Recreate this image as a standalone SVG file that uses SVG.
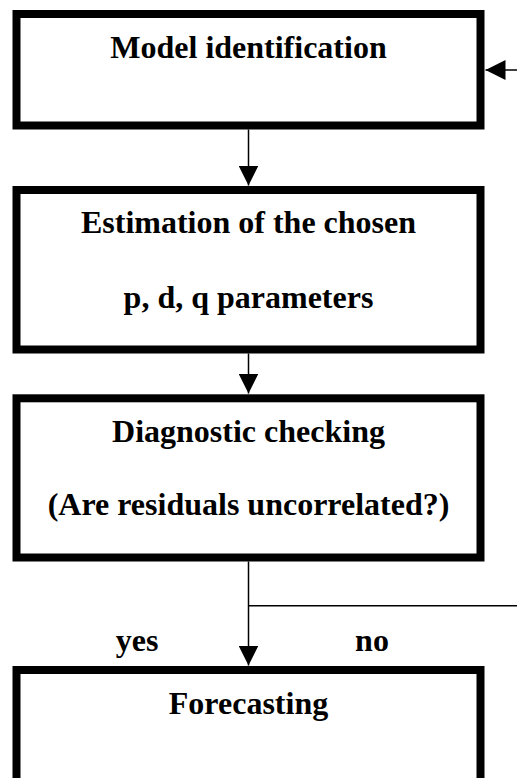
<svg xmlns="http://www.w3.org/2000/svg" width="517" height="778" viewBox="0 0 517 778">
  <style>
    .box { fill: #ffffff; stroke: #000000; stroke-width: 8; }
    .t { font-family: "Liberation Serif", "Times New Roman", serif; font-weight: bold; font-size: 32px; fill: #000000; text-anchor: middle; }
    .c { fill: none; stroke: #000000; stroke-width: 1.5; }
  </style>
  <defs>
    <marker id="ah" markerUnits="userSpaceOnUse" markerWidth="20" markerHeight="20" refX="20" refY="10" orient="auto">
      <path d="M0,0 L20,10 L0,20 Z" fill="#000000"/>
    </marker>
  </defs>
  <rect x="0" y="0" width="517" height="778" fill="#ffffff"/>
  <g id="node-identification">
    <rect class="box" x="16.5" y="14" width="464" height="111.5"/>
    <text class="t" x="248.5" y="58.3">Model identification</text>
  </g>
  <g id="node-estimation">
    <rect class="box" x="16.5" y="190" width="464" height="159.5"/>
    <text class="t" x="248.5" y="233.3">Estimation of the chosen</text>
    <text class="t" x="248.5" y="308.3">p, d, q parameters</text>
  </g>
  <g id="node-diagnostic">
    <rect class="box" x="16.5" y="398.3" width="464" height="159.2"/>
    <text class="t" x="248.5" y="441.7">Diagnostic checking</text>
    <text class="t" x="248.5" y="515">(Are residuals uncorrelated?)</text>
  </g>
  <g id="node-forecasting">
    <rect class="box" x="16.5" y="670" width="464" height="200"/>
    <text class="t" x="248.5" y="714">Forecasting</text>
  </g>
  <g id="connectors">
    <line class="c" x1="248.5" y1="129.5" x2="248.5" y2="185.5" marker-end="url(#ah)"/>
    <line class="c" x1="248.5" y1="353.5" x2="248.5" y2="393.5" marker-end="url(#ah)"/>
    <line class="c" x1="248.5" y1="561.5" x2="248.5" y2="665.5" marker-end="url(#ah)"/>
    <line class="c" x1="248.5" y1="605.7" x2="517" y2="605.7"/>
    <line class="c" x1="517" y1="70" x2="485.5" y2="70" marker-end="url(#ah)"/>
    <text class="t" x="137" y="651">yes</text>
    <text class="t" x="372" y="651">no</text>
  </g>
</svg>
